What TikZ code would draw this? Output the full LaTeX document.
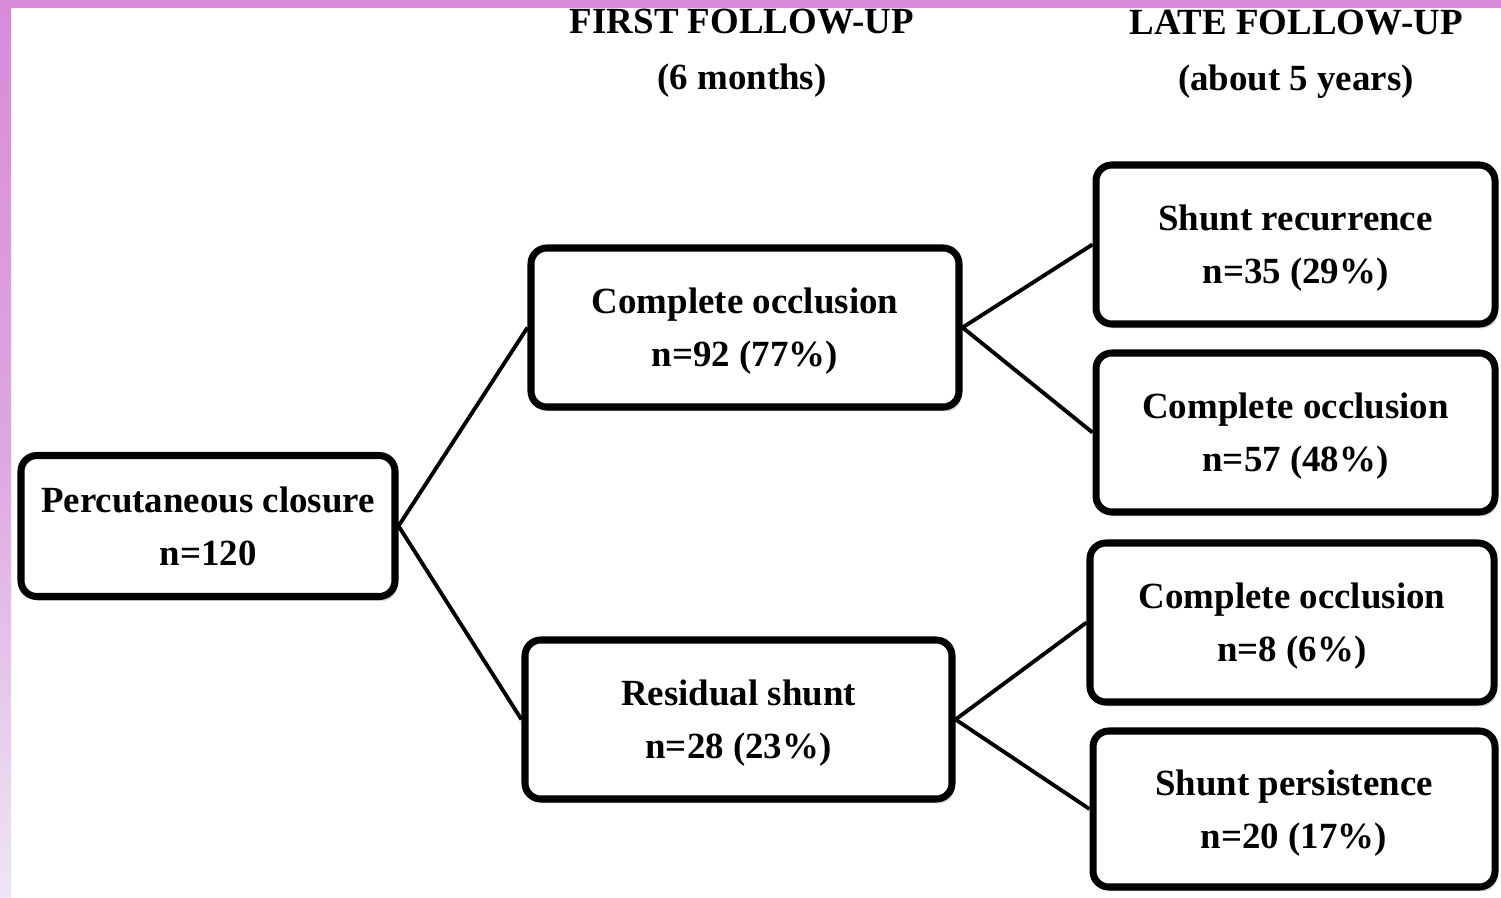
\documentclass[tikz,border=0pt]{standalone}
\usepackage{fontspec}
\setmainfont{Liberation Serif}
\usepackage{xcolor}
\usepackage{tikz}
\usetikzlibrary{shadows,positioning,calc}

\definecolor{framepink}{HTML}{D88BDA}
\definecolor{framelight}{HTML}{EEE6F4}

\tikzset{
    stagebox/.style={draw, line width=4pt, rounded corners=9pt, fill=white,
        align=center, font=\fontsize{21}{30}\selectfont\bfseries,
        minimum height=3.18cm, inner sep=0pt, text depth=0pt,
        drop shadow={opacity=0.35, shadow xshift=1.5pt, shadow yshift=-2.5pt}},
    branch/.style={line width=2.2pt},
    header/.style={align=center, font=\fontsize{21}{32}\selectfont\bfseries}
}

\begin{document}
\begin{tikzpicture}
    \useasboundingbox (0,0) rectangle (30.02,-17.96);

    % column headings
    \node[header] (hfirst) at (14.84,-1.06) {FIRST FOLLOW-UP\\(6 months)};
    \node[header] (hlate) at (25.92,-1.08) {LATE FOLLOW-UP\\(about 5 years)};

    % boxes
    \node[stagebox, minimum width=7.48cm, minimum height=2.82cm] (root) at (4.16,-10.52) {Percutaneous closure\\n=120};
    \node[stagebox, minimum width=8.56cm] (occl) at (14.9,-6.55) {Complete occlusion\\n=92 (77\%)};
    \node[stagebox, minimum width=8.54cm] (resid) at (14.77,-14.39) {Residual shunt\\n=28 (23\%)};
    \node[stagebox, minimum width=7.98cm] (recur) at (25.91,-4.89) {Shunt recurrence\\n=35 (29\%)};
    \node[stagebox, minimum width=7.98cm] (occlB) at (25.91,-8.65) {Complete occlusion\\n=57 (48\%)};
    \node[stagebox, minimum width=8.08cm] (occlC) at (25.84,-12.45) {Complete occlusion\\n=8 (6\%)};
    \node[stagebox, minimum width=8.04cm, minimum height=3.12cm] (persist) at (25.88,-16.18) {Shunt persistence\\n=20 (17\%)};

    % branches
    \draw[branch] (root.east) -- (occl.west);
    \draw[branch] (root.east) -- (resid.west);
    \draw[branch] (occl.east) -- (recur.west);
    \draw[branch] (occl.east) -- (occlB.west);
    \draw[branch] (resid.east) -- (occlC.west);
    \draw[branch] (resid.east) -- (persist.west);

    % frame
    \fill[framepink] (0,0) rectangle (30.02,-0.16);
    \shade[top color=framepink, bottom color=framelight, middle color=framepink!70!framelight] (0,-0.16) rectangle (0.22,-17.96);
    \fill[framepink] (0,0) rectangle (0.22,-0.16);
\end{tikzpicture}
\end{document}
